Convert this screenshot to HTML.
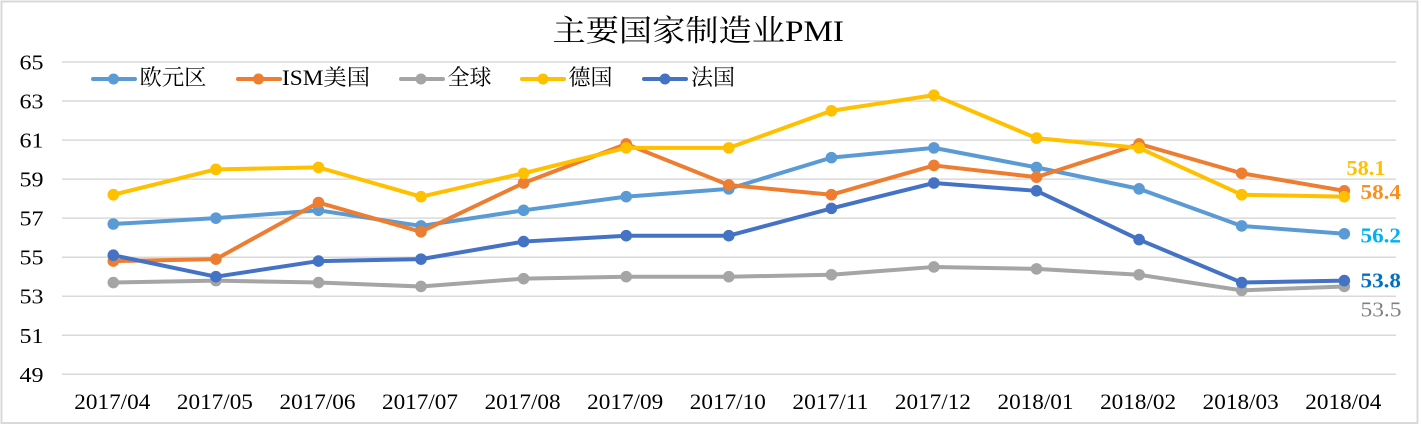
<!DOCTYPE html>
<html><head><meta charset="utf-8"><style>
html,body{margin:0;padding:0;background:#fff;}
svg{display:block;}
</style></head><body>
<svg width="1422" height="427" viewBox="0 0 1422 427" xmlns="http://www.w3.org/2000/svg">
<rect x="0" y="0" width="1422" height="427" fill="#fff"/>
<rect x="1.5" y="1.5" width="1416" height="421.5" fill="none" stroke="#D9D9D9" stroke-width="2"/>
<!-- gridlines -->
<g stroke="#D9D9D9" stroke-width="1.5">
<line x1="62" x2="1396" y1="62" y2="62"/>
<line x1="62" x2="1396" y1="101.04" y2="101.04"/>
<line x1="62" x2="1396" y1="140.08" y2="140.08"/>
<line x1="62" x2="1396" y1="179.12" y2="179.12"/>
<line x1="62" x2="1396" y1="218.16" y2="218.16"/>
<line x1="62" x2="1396" y1="257.2" y2="257.2"/>
<line x1="62" x2="1396" y1="296.24" y2="296.24"/>
<line x1="62" x2="1396" y1="335.28" y2="335.28"/>
<line x1="62" x2="1396" y1="374.3" y2="374.3"/>
</g>
<!-- y labels -->
<g font-family="Liberation Serif, serif" font-size="21" fill="#000">
<text x="19.5" y="69.5" textLength="24" lengthAdjust="spacingAndGlyphs">65</text>
<text x="19.5" y="108.5" textLength="24" lengthAdjust="spacingAndGlyphs">63</text>
<text x="19.5" y="147.6" textLength="24" lengthAdjust="spacingAndGlyphs">61</text>
<text x="19.5" y="186.6" textLength="24" lengthAdjust="spacingAndGlyphs">59</text>
<text x="19.5" y="225.7" textLength="24" lengthAdjust="spacingAndGlyphs">57</text>
<text x="19.5" y="264.7" textLength="24" lengthAdjust="spacingAndGlyphs">55</text>
<text x="19.5" y="303.7" textLength="24" lengthAdjust="spacingAndGlyphs">53</text>
<text x="19.5" y="342.8" textLength="24" lengthAdjust="spacingAndGlyphs">51</text>
<text x="19.5" y="381.8" textLength="24" lengthAdjust="spacingAndGlyphs">49</text>
</g>
<!-- x labels -->
<g font-family="Liberation Serif, serif" font-size="22" fill="#000" text-anchor="middle">
<text x="112.3" y="409" textLength="76" lengthAdjust="spacingAndGlyphs">2017/04</text>
<text x="214.9" y="409" textLength="76" lengthAdjust="spacingAndGlyphs">2017/05</text>
<text x="317.5" y="409" textLength="76" lengthAdjust="spacingAndGlyphs">2017/06</text>
<text x="420.0" y="409" textLength="76" lengthAdjust="spacingAndGlyphs">2017/07</text>
<text x="522.6" y="409" textLength="76" lengthAdjust="spacingAndGlyphs">2017/08</text>
<text x="625.2" y="409" textLength="76" lengthAdjust="spacingAndGlyphs">2017/09</text>
<text x="727.8" y="409" textLength="76" lengthAdjust="spacingAndGlyphs">2017/10</text>
<text x="830.4" y="409" textLength="76" lengthAdjust="spacingAndGlyphs">2017/11</text>
<text x="932.9" y="409" textLength="76" lengthAdjust="spacingAndGlyphs">2017/12</text>
<text x="1035.5" y="409" textLength="76" lengthAdjust="spacingAndGlyphs">2018/01</text>
<text x="1138.1" y="409" textLength="76" lengthAdjust="spacingAndGlyphs">2018/02</text>
<text x="1240.7" y="409" textLength="76" lengthAdjust="spacingAndGlyphs">2018/03</text>
<text x="1343.3" y="409" textLength="76" lengthAdjust="spacingAndGlyphs">2018/04</text>
</g>
<!-- title -->
<text x="552.5" y="41" font-family="Liberation Serif, 'Noto Serif CJK SC', serif" font-size="30" fill="#000" textLength="291.5" lengthAdjust="spacingAndGlyphs">主要国家制造业PMI</text>
<!-- legend -->
<g stroke-width="4" stroke-linecap="round">
<line x1="93" x2="135" y1="79" y2="79" stroke="#5B9BD5"/>
<line x1="238" x2="280" y1="79" y2="79" stroke="#ED7D31"/>
<line x1="401" x2="443" y1="79" y2="79" stroke="#A5A5A5"/>
<line x1="522" x2="564" y1="79" y2="79" stroke="#FFC000"/>
<line x1="644" x2="686" y1="79" y2="79" stroke="#4472C4"/>
</g>
<circle cx="113.5" cy="79" r="5.5" fill="#5B9BD5"/>
<circle cx="258.5" cy="79" r="5.5" fill="#ED7D31"/>
<circle cx="421" cy="79" r="5.5" fill="#A5A5A5"/>
<circle cx="543" cy="79" r="5.5" fill="#FFC000"/>
<circle cx="665" cy="79" r="5.5" fill="#4472C4"/>
<g font-family="Liberation Serif, 'Noto Serif CJK SC', serif" font-size="22" fill="#000">
<text x="139.5" y="85" textLength="67" lengthAdjust="spacingAndGlyphs">欧元区</text>
<text x="282" y="85" textLength="88" lengthAdjust="spacingAndGlyphs">ISM美国</text>
<text x="447.5" y="85" textLength="44" lengthAdjust="spacingAndGlyphs">全球</text>
<text x="568.5" y="85" textLength="44" lengthAdjust="spacingAndGlyphs">德国</text>
<text x="691" y="85" textLength="44" lengthAdjust="spacingAndGlyphs">法国</text>
</g>
<!-- series -->
<g fill="none" stroke-width="4" stroke-linejoin="round" stroke-linecap="round">
<polyline stroke="#5B9BD5" points="113.3,224.0 215.9,218.14 318.5,210.33 421.0,225.95 523.6,210.33 626.2,196.67 728.8,188.86 831.4,157.63 933.9,147.87 1036.5,167.38 1139.1,188.86 1241.7,225.95 1344.3,233.76"/>
</g>
<g fill="#5B9BD5">
<circle cx="113.3" cy="224.0" r="5.8"/><circle cx="215.9" cy="218.14" r="5.8"/><circle cx="318.5" cy="210.33" r="5.8"/><circle cx="421.0" cy="225.95" r="5.8"/><circle cx="523.6" cy="210.33" r="5.8"/><circle cx="626.2" cy="196.67" r="5.8"/><circle cx="728.8" cy="188.86" r="5.8"/><circle cx="831.4" cy="157.63" r="5.8"/><circle cx="933.9" cy="147.87" r="5.8"/><circle cx="1036.5" cy="167.38" r="5.8"/><circle cx="1139.1" cy="188.86" r="5.8"/><circle cx="1241.7" cy="225.95" r="5.8"/><circle cx="1344.3" cy="233.76" r="5.8"/>
</g>
<g fill="none" stroke-width="4" stroke-linejoin="round" stroke-linecap="round">
<polyline stroke="#ED7D31" points="113.3,261.08 215.9,259.13 318.5,202.52 421.0,231.8 523.6,183.0 626.2,143.96 728.8,184.96 831.4,194.72 933.9,165.43 1036.5,177.15 1139.1,143.96 1241.7,173.24 1344.3,190.81"/>
</g>
<g fill="#ED7D31">
<circle cx="113.3" cy="261.08" r="5.8"/><circle cx="215.9" cy="259.13" r="5.8"/><circle cx="318.5" cy="202.52" r="5.8"/><circle cx="421.0" cy="231.8" r="5.8"/><circle cx="523.6" cy="183.0" r="5.8"/><circle cx="626.2" cy="143.96" r="5.8"/><circle cx="728.8" cy="184.96" r="5.8"/><circle cx="831.4" cy="194.72" r="5.8"/><circle cx="933.9" cy="165.43" r="5.8"/><circle cx="1036.5" cy="177.15" r="5.8"/><circle cx="1139.1" cy="143.96" r="5.8"/><circle cx="1241.7" cy="173.24" r="5.8"/><circle cx="1344.3" cy="190.81" r="5.8"/>
</g>
<g fill="none" stroke-width="4" stroke-linejoin="round" stroke-linecap="round">
<polyline stroke="#A5A5A5" points="113.3,282.56 215.9,280.6 318.5,282.56 421.0,286.46 523.6,278.65 626.2,276.7 728.8,276.7 831.4,274.75 933.9,266.94 1036.5,268.89 1139.1,274.75 1241.7,290.36 1344.3,286.46"/>
</g>
<g fill="#A5A5A5">
<circle cx="113.3" cy="282.56" r="5.8"/><circle cx="215.9" cy="280.6" r="5.8"/><circle cx="318.5" cy="282.56" r="5.8"/><circle cx="421.0" cy="286.46" r="5.8"/><circle cx="523.6" cy="278.65" r="5.8"/><circle cx="626.2" cy="276.7" r="5.8"/><circle cx="728.8" cy="276.7" r="5.8"/><circle cx="831.4" cy="274.75" r="5.8"/><circle cx="933.9" cy="266.94" r="5.8"/><circle cx="1036.5" cy="268.89" r="5.8"/><circle cx="1139.1" cy="274.75" r="5.8"/><circle cx="1241.7" cy="290.36" r="5.8"/><circle cx="1344.3" cy="286.46" r="5.8"/>
</g>
<g fill="none" stroke-width="4" stroke-linejoin="round" stroke-linecap="round">
<polyline stroke="#FFC000" points="113.3,194.72 215.9,169.34 318.5,167.38 421.0,196.67 523.6,173.24 626.2,147.87 728.8,147.87 831.4,110.78 933.9,95.16 1036.5,138.1 1139.1,147.87 1241.7,194.72 1344.3,196.67"/>
</g>
<g fill="#FFC000">
<circle cx="113.3" cy="194.72" r="5.8"/><circle cx="215.9" cy="169.34" r="5.8"/><circle cx="318.5" cy="167.38" r="5.8"/><circle cx="421.0" cy="196.67" r="5.8"/><circle cx="523.6" cy="173.24" r="5.8"/><circle cx="626.2" cy="147.87" r="5.8"/><circle cx="728.8" cy="147.87" r="5.8"/><circle cx="831.4" cy="110.78" r="5.8"/><circle cx="933.9" cy="95.16" r="5.8"/><circle cx="1036.5" cy="138.1" r="5.8"/><circle cx="1139.1" cy="147.87" r="5.8"/><circle cx="1241.7" cy="194.72" r="5.8"/><circle cx="1344.3" cy="196.67" r="5.8"/>
</g>
<g fill="none" stroke-width="4" stroke-linejoin="round" stroke-linecap="round">
<polyline stroke="#4472C4" points="113.3,255.23 215.9,276.7 318.5,261.08 421.0,259.13 523.6,241.56 626.2,235.71 728.8,235.71 831.4,208.38 933.9,183.0 1036.5,190.81 1139.1,239.61 1241.7,282.56 1344.3,280.6"/>
</g>
<g fill="#4472C4">
<circle cx="113.3" cy="255.23" r="5.8"/><circle cx="215.9" cy="276.7" r="5.8"/><circle cx="318.5" cy="261.08" r="5.8"/><circle cx="421.0" cy="259.13" r="5.8"/><circle cx="523.6" cy="241.56" r="5.8"/><circle cx="626.2" cy="235.71" r="5.8"/><circle cx="728.8" cy="235.71" r="5.8"/><circle cx="831.4" cy="208.38" r="5.8"/><circle cx="933.9" cy="183.0" r="5.8"/><circle cx="1036.5" cy="190.81" r="5.8"/><circle cx="1139.1" cy="239.61" r="5.8"/><circle cx="1241.7" cy="282.56" r="5.8"/><circle cx="1344.3" cy="280.6" r="5.8"/>
</g>
<!-- end labels -->
<g font-family="Liberation Serif, serif" font-size="21" font-weight="bold">
<text x="1346.5" y="175" fill="#FFC000" textLength="39" lengthAdjust="spacingAndGlyphs">58.1</text>
<text x="1360.5" y="199" fill="#F7901E" textLength="40.5" lengthAdjust="spacingAndGlyphs">58.4</text>
<text x="1360.5" y="242.3" fill="#00B0F0" textLength="40.5" lengthAdjust="spacingAndGlyphs">56.2</text>
<text x="1360.5" y="287.3" fill="#0070C0" textLength="40.5" lengthAdjust="spacingAndGlyphs">53.8</text>
</g>
<text x="1360.5" y="316.7" fill="#808080" font-family="Liberation Serif, serif" font-size="21" textLength="41" lengthAdjust="spacingAndGlyphs">53.5</text>
</svg>
</body></html>
